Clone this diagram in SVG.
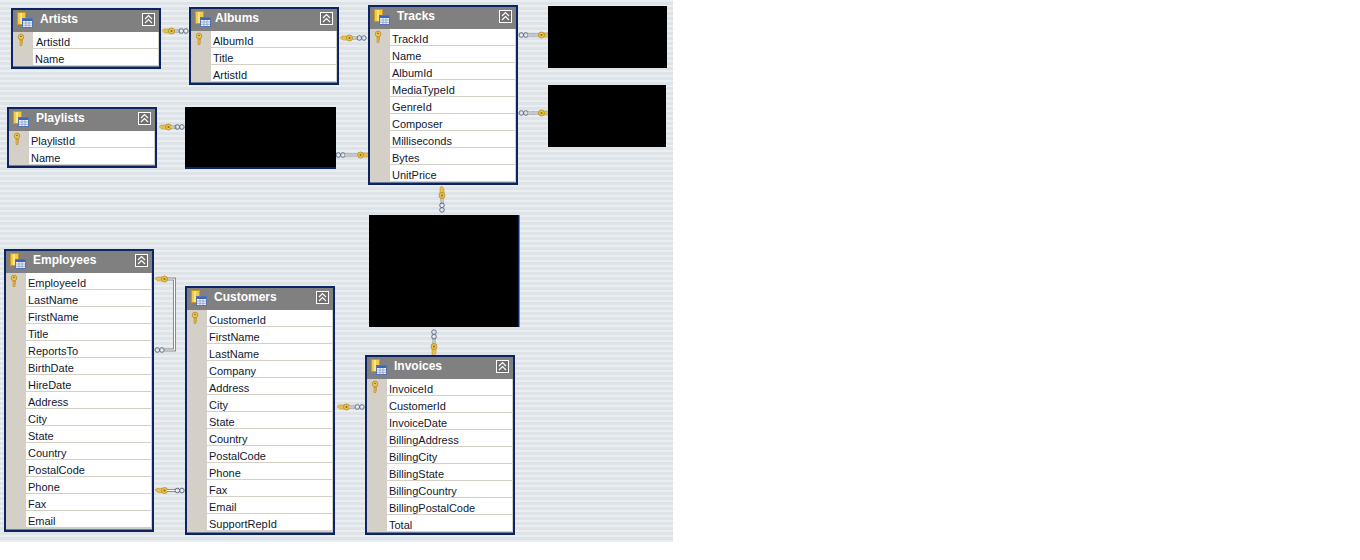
<svg xmlns="http://www.w3.org/2000/svg" width="1360" height="560" viewBox="0 0 1360 560">
<style>
.b{fill:#0b2464}.h{fill:#808080}.g{fill:#d4d0c8}.w{fill:#fff}
.t{font:bold 12px "Liberation Sans",Arial,sans-serif;fill:#fff}
.r{font:11px "Liberation Sans",Arial,sans-serif;fill:#101830}
.ln{stroke:#d4d0c8;stroke-width:1;fill:none}
.cl{fill:none;stroke:#8c8c8c;stroke-width:3}.cl2{fill:none;stroke:#fafafa;stroke-width:1}
</style>
<defs>
<pattern id="st" width="5" height="5" patternUnits="userSpaceOnUse"><rect width="5" height="5" fill="#eaeef0"/><rect y="2" width="5" height="3" fill="#dde3e6"/></pattern>
<g id="hk"><path d="M0 -.5l2-1.500h6v3.500h-1l-1 1-1-1-1 1-1-1h-1z" fill="#e8c050" stroke="#b08a20" stroke-width=".5"/><circle cx="9.500" cy="0" r="3" fill="#eec24a" stroke="#a88218" stroke-width=".7"/><circle cx="9.500" cy="0" r="1" fill="#8a6a10"/></g>
<g id="inf" fill="none" stroke="#5f6f86" stroke-width="1"><circle cx="2.300" cy="0" r="2.300"/><circle cx="6.900" cy="0" r="2.300"/></g>
<g id="lk"><path d="M0 0h6" stroke="#909090" stroke-width="3"/><path d="M0 0h6" stroke="#fff" stroke-width="1"/></g>
<g id="conn"><use href="#lk" x="12"/><use href="#hk"/><use href="#inf" x="17"/></g>
<g id="icon"><rect x="6.500" y="4.500" width="8" height="12" fill="#f5cb45" stroke="#c89a20"/><rect x="9" y="5" width="2" height="11" fill="#fbe48a"/><rect x="11.500" y="10.500" width="10" height="9" fill="#eef2fa" stroke="#5674b4"/><rect x="12" y="11" width="9" height="2" fill="#3f63b5"/><path d="M12 15h9M12 17.300h9M15 13v6M18 13v6" stroke="#7f92c4" stroke-width=".7"/></g>
<g id="btn"><rect x="131.500" y="5.500" width="12" height="12" fill="#6e6e6e" stroke="#fff"/><path d="M134 11l3.500-3.500 3.500 3.500M134 15l3.500-3.500 3.500 3.500" fill="none" stroke="#fff" stroke-width="1.200"/></g>
<g id="vk"><path d="M9.500 33v4l2-2v-1l-1-.5 1-.5v-1z" fill="#e8bc45" stroke="#a88218" stroke-width=".4"/><path d="M9 32h2v5.500h-2z" fill="#e8bc45" stroke="#a88218" stroke-width=".5"/><circle cx="10" cy="29" r="2.800" fill="#f0c64e" stroke="#a88218" stroke-width=".7"/><circle cx="10" cy="28.500" r=".8" fill="#7a5c10"/></g>
</defs>
<rect width="673" height="542" fill="url(#st)"/>
<g id="connectors">
<use href="#conn" x="162" y="31"/>
<use href="#conn" x="340" y="38"/>
<use href="#inf" x="519" y="35"/><use href="#lk" x="528" y="35" transform="translate(0 0)"/><use href="#lk" x="533" y="35"/><use href="#hk" transform="matrix(-1 0 0 1 551 35)"/>
<use href="#inf" x="519" y="113"/><use href="#lk" x="528" y="113"/><use href="#lk" x="533" y="113"/><use href="#hk" transform="matrix(-1 0 0 1 551 113)"/>
<use href="#hk" x="159" y="127"/><use href="#lk" x="171" y="127"/><use href="#inf" x="175" y="127"/>
<use href="#inf" x="336" y="155"/><use href="#lk" x="345" y="155"/><use href="#lk" x="351" y="155"/><use href="#hk" transform="matrix(-1 0 0 1 370 155)"/>
<use href="#conn" transform="matrix(0 1 1 0 442 186)"/>
<use href="#conn" transform="matrix(0 -1 1 0 434 356)"/>
<use href="#hk" x="337" y="407"/><use href="#lk" x="349" y="407"/><use href="#inf" x="355" y="407"/>
<use href="#hk" x="155" y="490.500"/><use href="#lk" x="167" y="490.500"/><use href="#lk" x="170" y="490.500"/><use href="#inf" x="175" y="490.500"/>
<path class="cl" d="M165 279h9.500v71h-10"/><path class="cl2" d="M165 279h9.500v71h-10"/>
<use href="#hk" x="155" y="279"/><use href="#inf" x="155" y="350"/>
</g>
<g id="black-boxes">
<rect x="548" y="6" width="119" height="62"/><rect x="548" y="85" width="118" height="62"/>
<rect x="185" y="107" width="151" height="61"/><rect x="185" y="167" width="151" height="2" class="b"/>
<rect x="369" y="215" width="150" height="112"/><rect x="518" y="215" width="1.500" height="112" class="b"/>
</g>
<g id="artists" transform="translate(11 8)"><rect class="b" width="150" height="61"/><rect class="g" x="2" y="2" width="146" height="56.500"/><rect class="h" x="2" y="2" width="146" height="22"/><rect class="w" x="22" y="24" width="125" height="34"/><path class="ln" d="M22 40.500h125M22 57.500h125"/><use href="#icon"/><use href="#btn"/><text class="t" x="29" y="15">Artists</text><use href="#vk"/><text class="r" x="25" y="38">ArtistId</text><text class="r" x="24" y="55">Name</text></g>
<g id="albums" transform="translate(189 7)"><rect class="b" width="150" height="78"/><rect class="g" x="2" y="2" width="146" height="73.500"/><rect class="h" x="2" y="2" width="146" height="22"/><rect class="w" x="22" y="24" width="125" height="51"/><path class="ln" d="M22 40.500h125M22 57.500h125M22 74.500h125"/><use href="#icon"/><use href="#btn"/><text class="t" x="26" y="15">Albums</text><use href="#vk"/><text class="r" x="24" y="38">AlbumId</text><text class="r" x="24" y="55">Title</text><text class="r" x="24" y="72">ArtistId</text></g>
<g id="tracks" transform="translate(368 5)"><rect class="b" width="150" height="180"/><rect class="g" x="2" y="2" width="146" height="175.500"/><rect class="h" x="2" y="2" width="146" height="22"/><rect class="w" x="22" y="24" width="125" height="153"/><path class="ln" d="M22 40.500h125M22 57.500h125M22 74.500h125M22 91.500h125M22 108.500h125M22 125.500h125M22 142.500h125M22 159.500h125M22 176.500h125"/><use href="#icon"/><use href="#btn"/><text class="t" x="29" y="15">Tracks</text><use href="#vk"/><text class="r" x="24" y="38">TrackId</text><text class="r" x="24" y="55">Name</text><text class="r" x="24" y="72">AlbumId</text><text class="r" x="24" y="89">MediaTypeId</text><text class="r" x="24" y="106">GenreId</text><text class="r" x="24" y="123">Composer</text><text class="r" x="24" y="140">Milliseconds</text><text class="r" x="24" y="157">Bytes</text><text class="r" x="24" y="174">UnitPrice</text></g>
<g id="playlists" transform="translate(7 107)"><rect class="b" width="150" height="61"/><rect class="g" x="2" y="2" width="146" height="56.500"/><rect class="h" x="2" y="2" width="146" height="22"/><rect class="w" x="22" y="24" width="125" height="34"/><path class="ln" d="M22 40.500h125M22 57.500h125"/><use href="#icon"/><use href="#btn"/><text class="t" x="29" y="15">Playlists</text><use href="#vk"/><text class="r" x="24" y="38">PlaylistId</text><text class="r" x="24" y="55">Name</text></g>
<g id="employees" transform="translate(4 249)"><rect class="b" width="150" height="283"/><rect class="g" x="2" y="2" width="146" height="278.500"/><rect class="h" x="2" y="2" width="146" height="22"/><rect class="w" x="22" y="24" width="125" height="255"/><path class="ln" d="M22 40.500h125M22 57.500h125M22 74.500h125M22 91.500h125M22 108.500h125M22 125.500h125M22 142.500h125M22 159.500h125M22 176.500h125M22 193.500h125M22 210.500h125M22 227.500h125M22 244.500h125M22 261.500h125M22 278.500h125"/><use href="#icon"/><use href="#btn"/><text class="t" x="29" y="15">Employees</text><use href="#vk"/><text class="r" x="24" y="38">EmployeeId</text><text class="r" x="24" y="55">LastName</text><text class="r" x="24" y="72">FirstName</text><text class="r" x="24" y="89">Title</text><text class="r" x="24" y="106">ReportsTo</text><text class="r" x="24" y="123">BirthDate</text><text class="r" x="24" y="140">HireDate</text><text class="r" x="24" y="157">Address</text><text class="r" x="24" y="174">City</text><text class="r" x="24" y="191">State</text><text class="r" x="24" y="208">Country</text><text class="r" x="24" y="225">PostalCode</text><text class="r" x="24" y="242">Phone</text><text class="r" x="24" y="259">Fax</text><text class="r" x="24" y="276">Email</text></g>
<g id="customers" transform="translate(185 286)"><rect class="b" width="150" height="249"/><rect class="g" x="2" y="2" width="146" height="244.500"/><rect class="h" x="2" y="2" width="146" height="22"/><rect class="w" x="22" y="24" width="125" height="221"/><path class="ln" d="M22 40.500h125M22 57.500h125M22 74.500h125M22 91.500h125M22 108.500h125M22 125.500h125M22 142.500h125M22 159.500h125M22 176.500h125M22 193.500h125M22 210.500h125M22 227.500h125M22 244.500h125"/><use href="#icon"/><use href="#btn"/><text class="t" x="29" y="15">Customers</text><use href="#vk"/><text class="r" x="24" y="38">CustomerId</text><text class="r" x="24" y="55">FirstName</text><text class="r" x="24" y="72">LastName</text><text class="r" x="24" y="89">Company</text><text class="r" x="24" y="106">Address</text><text class="r" x="24" y="123">City</text><text class="r" x="24" y="140">State</text><text class="r" x="24" y="157">Country</text><text class="r" x="24" y="174">PostalCode</text><text class="r" x="24" y="191">Phone</text><text class="r" x="24" y="208">Fax</text><text class="r" x="24" y="225">Email</text><text class="r" x="24" y="242">SupportRepId</text></g>
<g id="invoices" transform="translate(365 355)"><rect class="b" width="150" height="180"/><rect class="g" x="2" y="2" width="146" height="175.500"/><rect class="h" x="2" y="2" width="146" height="22"/><rect class="w" x="22" y="24" width="125" height="153"/><path class="ln" d="M22 40.500h125M22 57.500h125M22 74.500h125M22 91.500h125M22 108.500h125M22 125.500h125M22 142.500h125M22 159.500h125M22 176.500h125"/><use href="#icon"/><use href="#btn"/><text class="t" x="29" y="15">Invoices</text><use href="#vk"/><text class="r" x="24" y="38">InvoiceId</text><text class="r" x="24" y="55">CustomerId</text><text class="r" x="24" y="72">InvoiceDate</text><text class="r" x="24" y="89">BillingAddress</text><text class="r" x="24" y="106">BillingCity</text><text class="r" x="24" y="123">BillingState</text><text class="r" x="24" y="140">BillingCountry</text><text class="r" x="24" y="157">BillingPostalCode</text><text class="r" x="24" y="174">Total</text></g>
</svg>
